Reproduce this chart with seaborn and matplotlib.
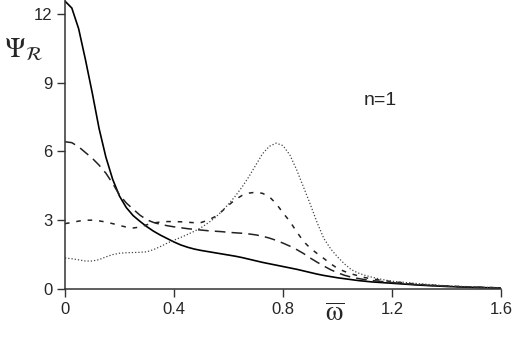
import pandas as pd
import numpy as np
import matplotlib.pyplot as plt
import seaborn as sns

# frequency grid (omega bar)
omega = [0, 0.025, 0.05, 0.075, 0.1, 0.125, 0.15, 0.175, 0.2, 0.225, 0.25, 0.275, 0.3, 0.325, 0.35,
         0.375, 0.4, 0.425, 0.45, 0.475, 0.5, 0.525, 0.55, 0.575, 0.6, 0.625, 0.65, 0.675, 0.7,
         0.725, 0.75, 0.775, 0.8, 0.825, 0.85, 0.875, 0.9, 0.925, 0.95, 0.975, 1.0, 1.025, 1.05,
         1.075, 1.1, 1.125, 1.15, 1.175, 1.2, 1.3, 1.4, 1.5, 1.6]

psi_solid = [12.55, 12.25, 11.35, 10.0, 8.55, 7.0, 5.75, 4.78, 4.05, 3.55, 3.2, 2.95, 2.72, 2.52, 2.35,
             2.2, 2.05, 1.92, 1.82, 1.74, 1.68, 1.63, 1.58, 1.53, 1.48, 1.43, 1.37, 1.3, 1.23,
             1.16, 1.1, 1.04, 0.98, 0.92, 0.86, 0.79, 0.72, 0.65, 0.59, 0.54, 0.49, 0.45, 0.41,
             0.37, 0.34, 0.31, 0.29, 0.27, 0.25, 0.17, 0.11, 0.07, 0.04]
psi_longdash = [6.42, 6.38, 6.2, 5.95, 5.7, 5.4, 5.05, 4.6, 4.1, 3.75, 3.48, 3.22, 3.02, 2.9, 2.82,
                2.76, 2.71, 2.67, 2.63, 2.6, 2.57, 2.54, 2.52, 2.5, 2.47, 2.45, 2.43, 2.4, 2.36,
                2.3, 2.22, 2.12, 2.0, 1.87, 1.72, 1.55, 1.35, 1.17, 1.0, 0.84, 0.71, 0.6, 0.52,
                0.46, 0.41, 0.37, 0.34, 0.31, 0.28, 0.18, 0.12, 0.08, 0.05]
psi_shortdash = [2.85, 2.9, 2.96, 3.0, 3.0, 2.97, 2.92, 2.85, 2.77, 2.7, 2.66, 2.7, 2.8, 2.88, 2.92,
                 2.94, 2.94, 2.93, 2.91, 2.89, 2.9, 3.0, 3.15, 3.38, 3.65, 3.9, 4.08, 4.18, 4.22,
                 4.17, 4.02, 3.72, 3.32, 2.95, 2.5, 2.08, 1.78, 1.55, 1.33, 1.1, 0.9, 0.77, 0.66,
                 0.58, 0.5, 0.44, 0.4, 0.36, 0.32, 0.2, 0.13, 0.08, 0.05]
psi_dotted = [1.35, 1.32, 1.27, 1.22, 1.22, 1.28, 1.4, 1.5, 1.56, 1.58, 1.59, 1.6, 1.62, 1.72, 1.85,
              2.0, 2.13, 2.25, 2.38, 2.52, 2.68, 2.88, 3.1, 3.38, 3.7, 4.05, 4.45, 4.9, 5.4,
              5.9, 6.22, 6.36, 6.25, 5.85, 5.2, 4.45, 3.7, 2.9, 2.2, 1.75, 1.4, 1.1, 0.85,
              0.7, 0.6, 0.52, 0.45, 0.39, 0.34, 0.23, 0.14, 0.09, 0.05]

xticks = [0, 0.4, 0.8, 1.2, 1.6]
xticklabels = ['0', '0.4', '0.8', '1.2', '1.6']
yticks = [0, 3, 6, 9, 12]

sns.set_style('ticks')
plt.rcParams['font.family'] = ['Liberation Sans', 'DejaVu Sans']
plt.rcParams['mathtext.fontset'] = 'stix'

fig = plt.figure(figsize=(5.12, 3.4), dpi=100)
ax = fig.add_axes([65/512, 51/340, 436/512, 289/340])

sns.lineplot(x=omega, y=psi_solid, ax=ax, color='black', lw=1.2)
sns.lineplot(x=omega, y=psi_longdash, ax=ax, color='#222222', lw=1.1, linestyle=(0, (7, 4)))
sns.lineplot(x=omega, y=psi_shortdash, ax=ax, color='#222222', lw=1.1, linestyle=(0, (3, 4.5)))
sns.lineplot(x=omega, y=psi_dotted, ax=ax, color='#444444', lw=0.9, linestyle=(0, (1, 1.6)))

ax.set_xlim(0, 1.6)
ax.set_ylim(0, 12.6)
ax.set_xticks(xticks)
ax.set_xticklabels(xticklabels)
ax.set_yticks(yticks)
ax.tick_params(labelsize=12, length=6, width=1, color='#333333', pad=3)
sns.despine(ax=ax)
for s in ['left', 'bottom']:
    ax.spines[s].set_color('#333333')
    ax.spines[s].set_linewidth(1.1)

fig.text(4/512, 1 - 50/340, r'$\Psi_{\mathcal{R}}$', fontsize=20, va='center', ha='left')
fig.text(335/512, 1 - 314/340, r'$\overline{\mathrm{\omega}}$', fontsize=20, va='center', ha='center')
fig.text(380/512, 1 - 100/340, 'n=1', fontsize=14, va='center', ha='center')

fig.savefig('out.png', dpi=100)
